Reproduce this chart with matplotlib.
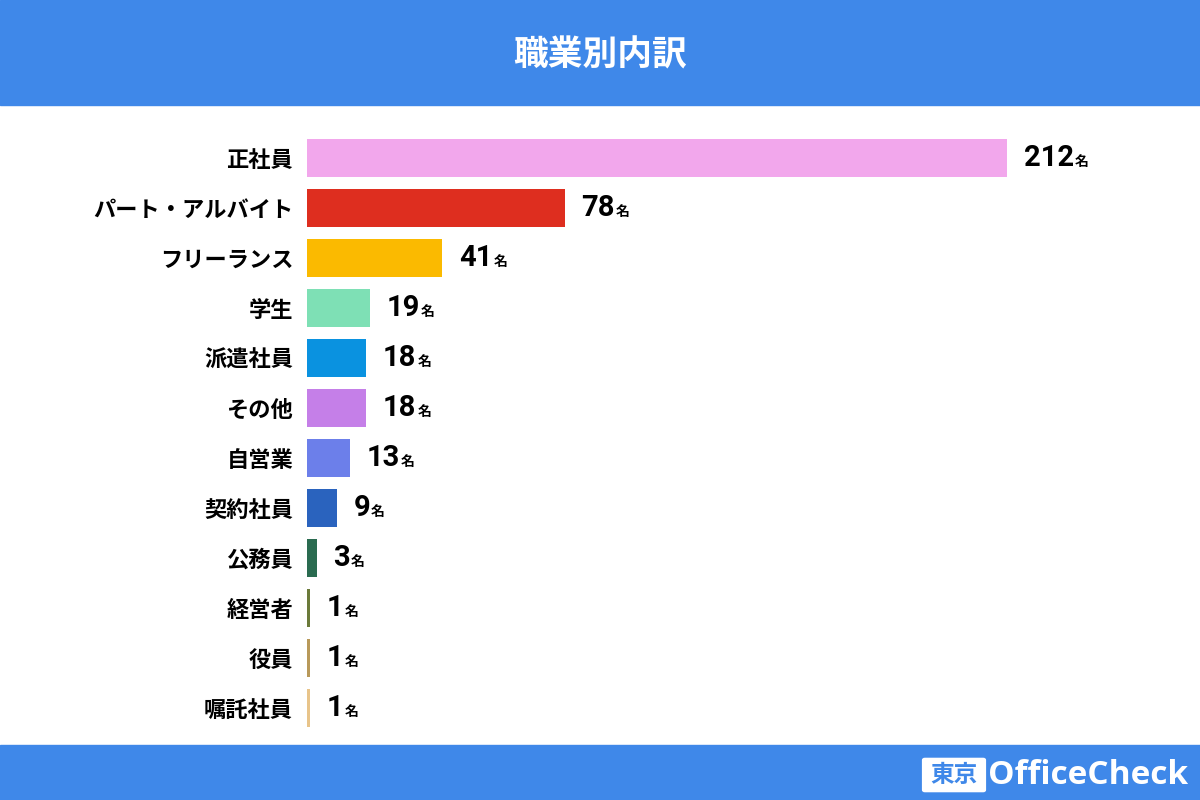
import matplotlib
matplotlib.use("Agg")
import matplotlib.pyplot as plt
from matplotlib.patches import Rectangle, FancyBboxPatch
from matplotlib.transforms import offset_copy

plt.rcParams['font.family'] = ['Noto Sans CJK JP', 'DejaVu Sans']

categories = ["正社員", "パート・アルバイト", "フリーランス", "学生", "派遣社員", "その他",
              "自営業", "契約社員", "公務員", "経営者", "役員", "嘱託社員"]
values = [212, 78, 41, 19, 18, 18, 13, 9, 3, 1, 1, 1]
colors = ["#F2A7EC", "#DE2E1F", "#FBBA00", "#7EE0B5", "#0A92E0", "#C57FE8",
          "#6C7FEA", "#2A63BE", "#2A6B50", "#6B7A3A", "#B8995A", "#E8C48A"]
title = "職業別内訳"
unit = "名"

W, H = 1200, 800
fig = plt.figure(figsize=(12, 8), dpi=100)
fig.patch.set_facecolor("white")
blue = "#3F88E9"
fig.add_artist(Rectangle((0, 1 - 105 / H), 1, 105 / H, transform=fig.transFigure, color=blue))
fig.add_artist(Rectangle((0, 0), 1, 55 / H, transform=fig.transFigure, color=blue))
fig.text(0.5, 1 - 55 / H, title, color="white", fontsize=25, fontweight="bold", ha="center", va="center")

# logo
fig.add_artist(FancyBboxPatch((925 / W, 10 / H), 58 / W, 30 / H, boxstyle="round,pad=0.002",
                              transform=fig.transFigure, fc="white", ec="white"))
fig.text(954 / W, 25 / H, "東京", color=blue, fontsize=17, fontweight="bold", ha="center", va="center")
fig.text(988 / W, 25 / H, "OfficeCheck", color="white", fontsize=24, fontweight="bold", ha="left", va="center",
         family=["Open Sans", "DejaVu Sans"])

ax = fig.add_axes([307 / W, 70 / H, 700 / W, (733 - 70) / H * 0 + (733 - 133) / H])
ax.set_position([307 / W, 1 - 733 / H, 700 / W, (733 - 133) / H])
n = len(categories)
ys = list(range(n))
ax.barh(ys, values, color=colors, height=0.77)
ax.set_xlim(0, 212)
ax.set_ylim(n - 0.5, -0.5)
for s in ax.spines.values():
    s.set_visible(False)
ax.set_xticks([])
ax.set_yticks(ys)
ax.set_yticklabels(categories, fontsize=16, fontweight="bold")
ax.tick_params(axis="y", length=0, pad=10)

fig.canvas.draw()
r = fig.canvas.get_renderer()
for y, v in zip(ys, values):
    t = ax.annotate(str(v), (v, y), xytext=(12, 0), textcoords="offset points",
                    fontsize=21, fontweight="bold", va="center", ha="left",
                    family=["Roboto", "DejaVu Sans"])
    bb = t.get_window_extent(r)
    fig.text(bb.x1 / W + 1 / W, bb.y0 / H + 3 / H, unit, fontsize=10, fontweight="bold", ha="left", va="bottom")

fig.savefig("out.png", dpi=100)
